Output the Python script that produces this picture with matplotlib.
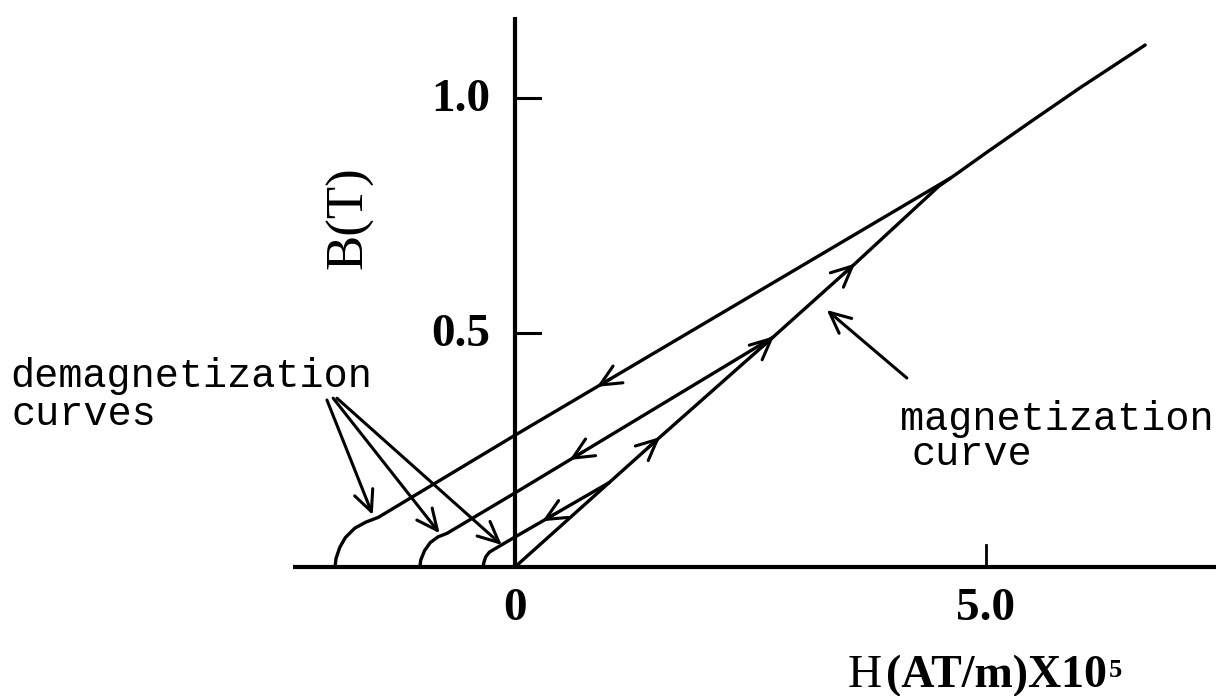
import numpy as np
import matplotlib
matplotlib.use("Agg")
import matplotlib.pyplot as plt

# Magnetization curve (H in 1e5 AT/m, B in T)
mag_H = [0.0, 1.5, 2.75, 3.6, 4.5, 4.7, 5.0, 5.5, 6.0, 6.69]
mag_B = [0.0, 0.27, 0.492, 0.645, 0.812, 0.84, 0.883, 0.953, 1.022, 1.113]

# Demagnetization (recoil) curves, each leaving the magnetization curve
upper_H = [4.62, 0.0, -1.45, -1.58, -1.70, -1.80, -1.86, -1.90, -1.91]
upper_B = [0.829, 0.281, 0.106, 0.096, 0.083, 0.063, 0.042, 0.018, 0.0]

middle_H = [2.74, 0.0, -0.72, -0.82, -0.90, -0.96, -1.00, -1.01]
middle_B = [0.490, 0.158, 0.072, 0.064, 0.052, 0.035, 0.015, 0.0]

lower_H = [1.0, 0.0, -0.22, -0.27, -0.31, -0.33, -0.34]
lower_B = [0.18, 0.064, 0.038, 0.032, 0.022, 0.010, 0.0]

# Where direction arrows sit on each curve (H of the arrow tip)
mag_arrow_H = [1.54, 2.75, 3.61]
upper_arrow_H = [0.87]
middle_arrow_H = [0.58]
lower_arrow_H = [0.29]

x_ticks = [0.0, 5.0]
x_tick_labels = ["0", "5.0"]
y_ticks = [0.5, 1.0]
y_tick_labels = ["0.5", "1.0"]

fig = plt.figure(figsize=(12.16, 6.96), dpi=100)
ax = fig.add_axes([0, 0, 1, 1])
ax.set_xlim(-5.467, 7.442)
ax.set_ylim(-0.275, 1.209)
ax.axis("off")

LW = 2.4
AXW = 3.0

# Axes
ax.plot([-2.36, 7.442], [0, 0], color="black", lw=AXW, solid_capstyle="butt")
ax.plot([0, 0], [0, 1.173], color="black", lw=AXW, solid_capstyle="butt")
for yt in y_ticks:
    ax.plot([0, 0.265], [yt, yt], color="black", lw=2.2)
for xt in x_ticks[1:]:
    ax.plot([xt, xt], [0, 0.047], color="black", lw=2.0)

serif = "Liberation Serif"
mono = "Liberation Mono"

for yt, lab in zip(y_ticks, y_tick_labels):
    ax.text(-0.26, yt - 0.028, lab, ha="right", va="baseline",
            family=serif, fontsize=34, fontweight="bold")
for xt, lab in zip(x_ticks, x_tick_labels):
    ax.text(xt, -0.113, lab, ha="center", va="baseline",
            family=serif, fontsize=34, fontweight="bold")

# Axis titles
ax.text(-1.76, 0.745, "B(T)", rotation=90, ha="center", va="center",
        family=serif, fontsize=38)
ax.text(3.535, -0.256, "H", ha="left", va="baseline", family=serif, fontsize=34)
ax.text(3.94, -0.256, "(AT/m)X10", ha="left", va="baseline", family=serif,
        fontsize=33, fontweight="bold")
ax.text(6.30, -0.2345, "5", ha="left", va="baseline", family=serif,
        fontsize=19, fontweight="bold")

# Curves
for hs, bs in [(mag_H, mag_B), (upper_H, upper_B), (middle_H, middle_B), (lower_H, lower_B)]:
    ax.plot(hs, bs, color="black", lw=LW, solid_joinstyle="round", solid_capstyle="round")


def curve_arrow(hs, bs, h_tip, forward):
    hs = np.asarray(hs)
    bs = np.asarray(bs)
    order = np.argsort(hs)
    b_tip = np.interp(h_tip, hs[order], bs[order])
    step = 0.05 if forward else -0.05
    b_next = np.interp(h_tip - step, hs[order], bs[order])
    p_tip = ax.transData.transform((h_tip, b_tip))
    p_back = ax.transData.transform((h_tip - step, b_next))
    d = p_tip - p_back
    d = d / np.hypot(*d)
    back = -d * 16.0 * 72 / fig.dpi
    ax.annotate("", xy=(h_tip, b_tip), xytext=(back[0], back[1]),
                textcoords="offset points",
                arrowprops=dict(arrowstyle="->,head_length=0.75,head_width=0.35",
                                mutation_scale=20, lw=2.2, color="black",
                                shrinkA=0, shrinkB=0))


for h in mag_arrow_H:
    curve_arrow(mag_H, mag_B, h, True)
for h in upper_arrow_H:
    curve_arrow(upper_H, upper_B, h, False)
for h in middle_arrow_H:
    curve_arrow(middle_H, middle_B, h, False)
for h in lower_arrow_H:
    curve_arrow(lower_H, lower_B, h, False)

# Labels with pointer arrows
ax.text(-5.36, 0.384, "demagnetization", ha="left", va="baseline",
        family=mono, fontsize=29)
ax.text(-5.34, 0.303, "curves", ha="left", va="baseline",
        family=mono, fontsize=29)
ax.text(4.087, 0.292, "magnetization", ha="left", va="baseline",
        family=mono, fontsize=29)
ax.text(4.214, 0.217, "curve", ha="left", va="baseline",
        family=mono, fontsize=29)

pointer_style = dict(arrowstyle="->,head_length=0.75,head_width=0.35",
                     mutation_scale=20, lw=2.2, color="black",
                     shrinkA=0, shrinkB=0)
demag_tails = [(-1.996, 0.356), (-1.93, 0.360), (-1.89, 0.360)]
demag_tips = [(-1.51, 0.111), (-0.80, 0.072), (-0.14, 0.047)]
for tail, tip in zip(demag_tails, demag_tips):
    ax.annotate("", xy=tip, xytext=tail, arrowprops=pointer_style)
ax.annotate("", xy=(3.31, 0.548), xytext=(4.16, 0.403), arrowprops=pointer_style)

fig.savefig("out.png", dpi=100, facecolor="white")
